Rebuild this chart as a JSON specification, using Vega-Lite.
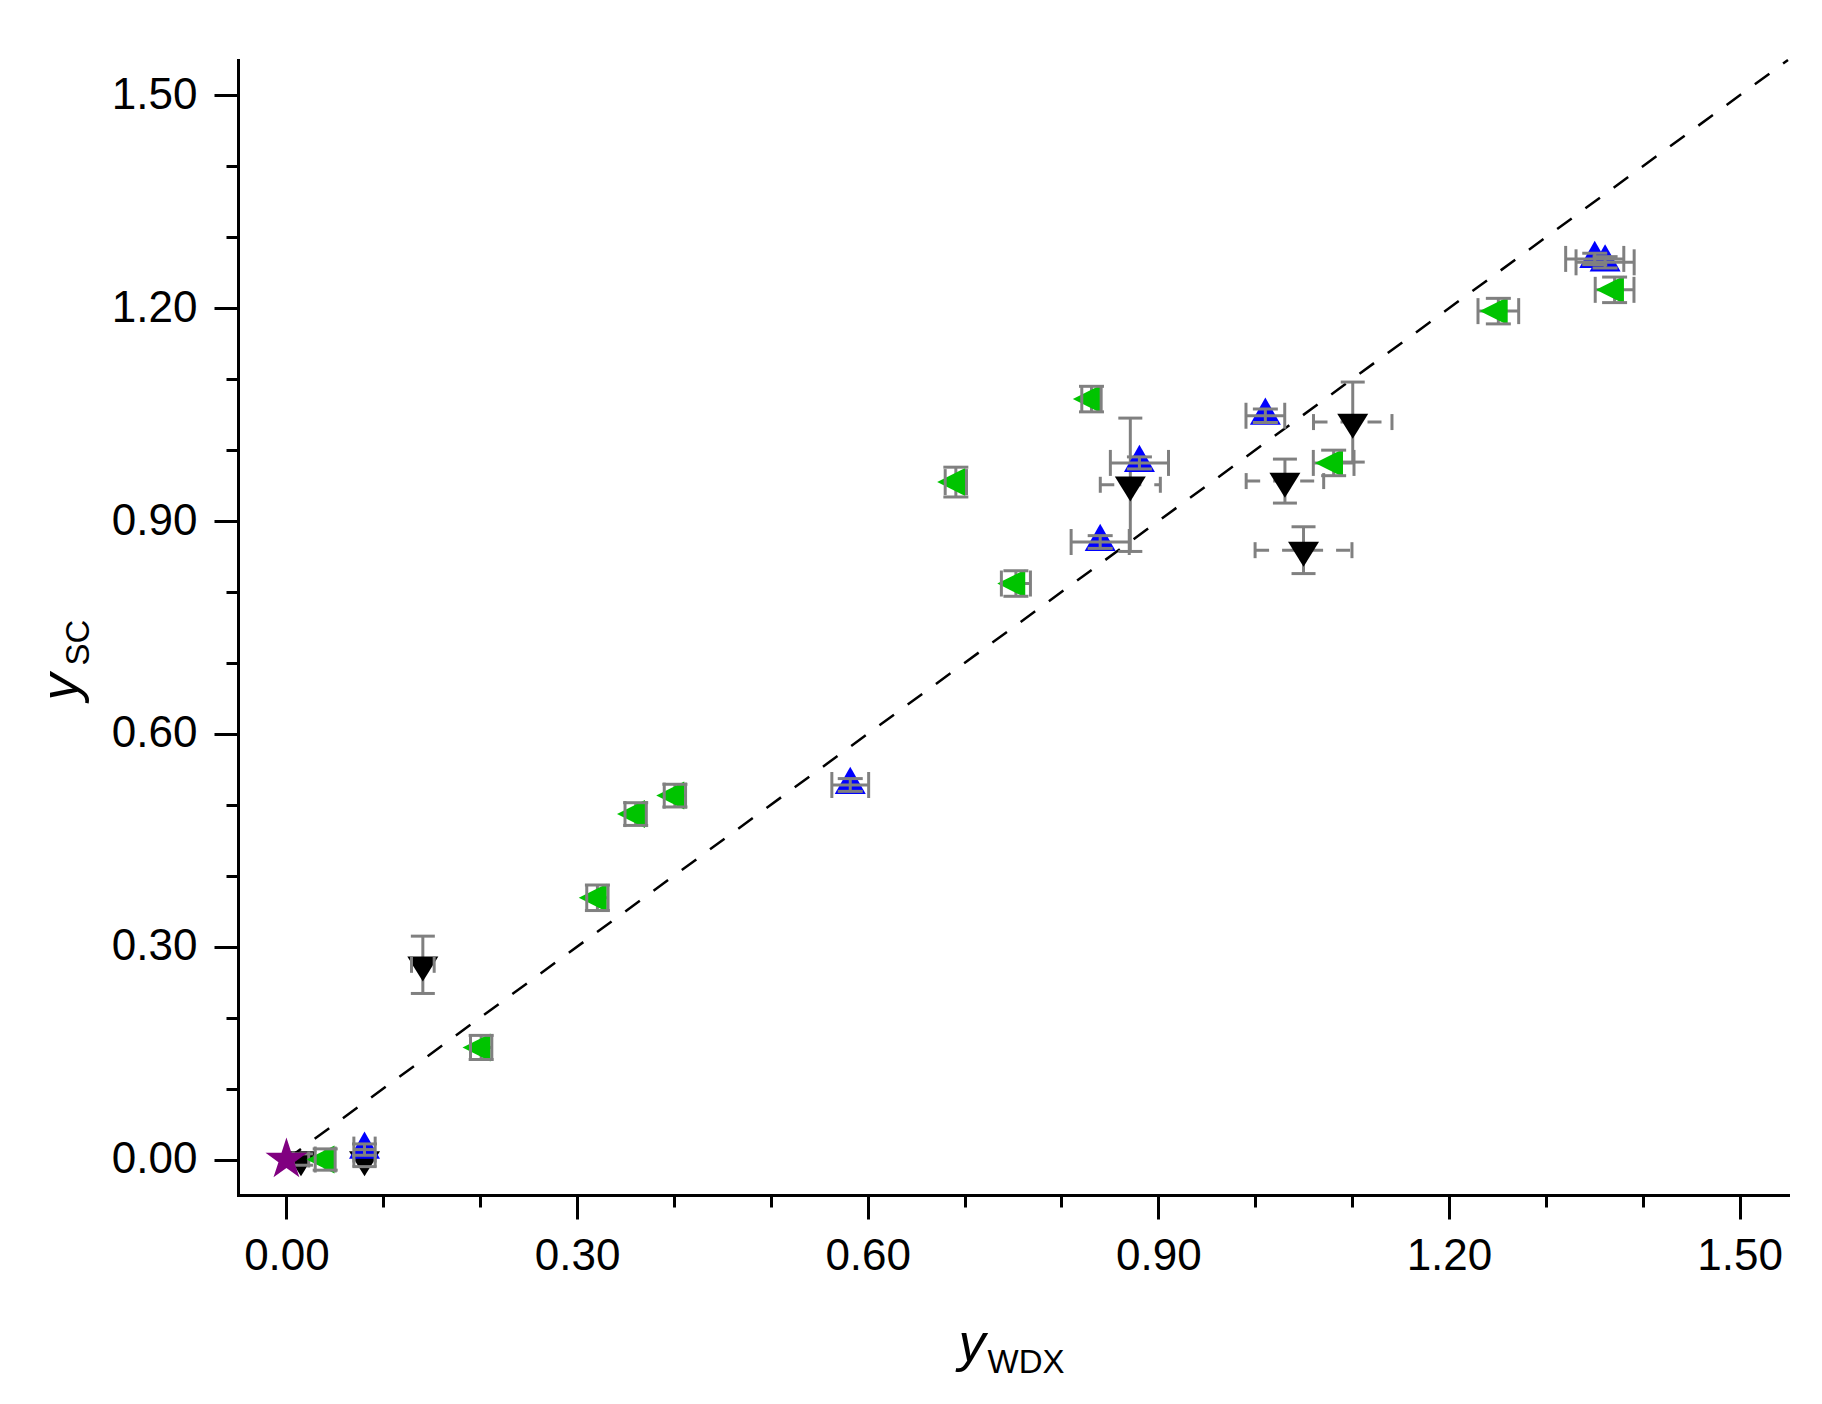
{
  "$schema": "https://vega.github.io/schema/vega-lite/v6.json",
  "width": 1550,
  "height": 1135,
  "autosize": {"type": "none"},
  "padding": {"left": 238, "top": 60, "right": 34, "bottom": 209},
  "background": "white",
  "config": {
    "view": {"stroke": null},
    "axis": {
      "grid": false,
      "labelFont": "Liberation Sans",
      "titleFont": "Liberation Sans",
      "labelColor": "black",
      "titleColor": "black",
      "tickColor": "black",
      "domainColor": "black",
      "titleFontWeight": "normal",
      "labelFontSize": 44,
      "tickWidth": 3,
      "domainWidth": 3
    }
  },
  "datasets": {
    "diag": [
      {"x": 0, "y": 0},
      {"x": 1.55, "y": 1.55}
    ],
    "star": [
      {"x": 0, "y": 0}
    ],
    "green": [
      {"x": 0.040, "y": 0.000, "xlo": 0.0297, "xhi": 0.0503, "ylo": -0.015, "yhi": 0.015},
      {"x": 0.201, "y": 0.158, "xlo": 0.190, "xhi": 0.212, "ylo": 0.141, "yhi": 0.175},
      {"x": 0.321, "y": 0.369, "xlo": 0.310, "xhi": 0.332, "ylo": 0.351, "yhi": 0.387},
      {"x": 0.3605, "y": 0.487, "xlo": 0.3495, "xhi": 0.3715, "ylo": 0.471, "yhi": 0.503},
      {"x": 0.401, "y": 0.513, "xlo": 0.390, "xhi": 0.412, "ylo": 0.497, "yhi": 0.529},
      {"x": 0.691, "y": 0.955, "xlo": 0.680, "xhi": 0.702, "ylo": 0.934, "yhi": 0.976},
      {"x": 0.753, "y": 0.812, "xlo": 0.738, "xhi": 0.768, "ylo": 0.794, "yhi": 0.830},
      {"x": 0.831, "y": 1.072, "xlo": 0.821, "xhi": 0.841, "ylo": 1.054, "yhi": 1.090},
      {"x": 1.081, "y": 0.982, "xlo": 1.060, "xhi": 1.102, "ylo": 0.964, "yhi": 1.000},
      {"x": 1.251, "y": 1.196, "xlo": 1.230, "xhi": 1.272, "ylo": 1.178, "yhi": 1.214},
      {"x": 1.371, "y": 1.226, "xlo": 1.351, "xhi": 1.391, "ylo": 1.208, "yhi": 1.244}
    ],
    "blue": [
      {"x": 0.0806, "y": 0.014, "xlo": 0.0696, "xhi": 0.0916, "ylo": 0.006, "yhi": 0.022},
      {"x": 0.582, "y": 0.528, "xlo": 0.563, "xhi": 0.601, "ylo": 0.519, "yhi": 0.537},
      {"x": 0.840, "y": 0.8705, "xlo": 0.810, "xhi": 0.870, "ylo": 0.8615, "yhi": 0.8795},
      {"x": 0.8805, "y": 0.982, "xlo": 0.8505, "xhi": 0.9105, "ylo": 0.9735, "yhi": 0.9905},
      {"x": 1.0105, "y": 1.0485, "xlo": 0.9905, "xhi": 1.0305, "ylo": 1.039, "yhi": 1.058},
      {"x": 1.3505, "y": 1.2696, "xlo": 1.3205, "xhi": 1.3805, "ylo": 1.2616, "yhi": 1.2776},
      {"x": 1.3612, "y": 1.2648, "xlo": 1.3312, "xhi": 1.3912, "ylo": 1.2568, "yhi": 1.2728}
    ],
    "black": [
      {"x": 0.015, "y": 0.000, "xlo": 0.007, "xhi": 0.023, "ylo": -0.008, "yhi": 0.008},
      {"x": 0.0806, "y": 0.000, "xlo": 0.0696, "xhi": 0.0916, "ylo": -0.010, "yhi": 0.010},
      {"x": 0.1408, "y": 0.2745, "xlo": 0.1291, "xhi": 0.1525, "ylo": 0.2341, "yhi": 0.3149},
      {"x": 0.8711, "y": 0.9512, "xlo": 0.8401, "xhi": 0.9021, "ylo": 0.8572, "yhi": 1.0452},
      {"x": 1.0307, "y": 0.9564, "xlo": 0.9907, "xhi": 1.0707, "ylo": 0.9254, "yhi": 0.9874},
      {"x": 1.0499, "y": 0.859, "xlo": 0.9999, "xhi": 1.0999, "ylo": 0.826, "yhi": 0.892},
      {"x": 1.1007, "y": 1.0396, "xlo": 1.0602, "xhi": 1.1412, "ylo": 0.9832, "yhi": 1.096}
    ]
  },
  "resolve": {"axis": {"x": "independent", "y": "independent"}},
  "layer": [
    {
      "data": {"name": "diag"},
      "mark": {"type": "line", "color": "black", "strokeWidth": 2.5, "strokeDash": [18, 17]},
      "encoding": {
        "x": {
          "field": "x", "type": "quantitative",
          "scale": {"domain": [-0.05, 1.55], "nice": false, "zero": false},
          "axis": {"orient": "bottom", "values": [0, 0.1, 0.2, 0.3, 0.4, 0.5, 0.6, 0.7, 0.8, 0.9, 1.0, 1.1, 1.2, 1.3, 1.4, 1.5],
                   "tickSize": 12, "labels": false, "title": null, "domain": true, "domainCap": "square"}
        },
        "y": {
          "field": "y", "type": "quantitative",
          "scale": {"domain": [-0.05, 1.55], "nice": false, "zero": false},
          "axis": {"orient": "left", "values": [0, 0.1, 0.2, 0.3, 0.4, 0.5, 0.6, 0.7, 0.8, 0.9, 1.0, 1.1, 1.2, 1.3, 1.4, 1.5],
                   "tickSize": 12, "labels": false, "title": null, "domain": true, "domainCap": "square"}
        }
      }
    },
    {
      "data": {"name": "black"},
      "layer": [
        {
          "mark": {"type": "rule", "color": "#808080", "strokeWidth": 3, "strokeDash": [14, 13]},
          "encoding": {
            "x": {"field": "xlo", "type": "quantitative", "axis": null},
            "x2": {"field": "xhi"},
            "y": {"field": "y", "type": "quantitative", "axis": null}
          }
        },
        {
          "mark": {"type": "rule", "color": "#808080", "strokeWidth": 3},
          "encoding": {
            "x": {"field": "x", "type": "quantitative", "axis": null},
            "y": {"field": "ylo", "type": "quantitative", "axis": null},
            "y2": {"field": "yhi"}
          }
        },
        {
          "mark": {"type": "point", "shape": "M0,1.075L1,-0.537L-1,-0.537Z", "size": 961, "filled": true, "color": "black", "opacity": 1},
          "encoding": {
            "x": {"field": "x", "type": "quantitative", "axis": null},
            "y": {"field": "y", "type": "quantitative", "axis": null}
          }
        },
        {
          "mark": {"type": "tick", "orient": "vertical", "size": 16, "thickness": 3, "color": "#808080", "opacity": 1},
          "encoding": {
            "x": {"field": "xlo", "type": "quantitative", "axis": null},
            "y": {"field": "y", "type": "quantitative", "axis": null}
          }
        },
        {
          "mark": {"type": "tick", "orient": "vertical", "size": 16, "thickness": 3, "color": "#808080", "opacity": 1},
          "encoding": {
            "x": {"field": "xhi", "type": "quantitative", "axis": null},
            "y": {"field": "y", "type": "quantitative", "axis": null}
          }
        },
        {
          "mark": {"type": "tick", "orient": "horizontal", "size": 24, "thickness": 3, "color": "#808080", "opacity": 1},
          "encoding": {
            "x": {"field": "x", "type": "quantitative", "axis": null},
            "y": {"field": "ylo", "type": "quantitative", "axis": null}
          }
        },
        {
          "mark": {"type": "tick", "orient": "horizontal", "size": 24, "thickness": 3, "color": "#808080", "opacity": 1},
          "encoding": {
            "x": {"field": "x", "type": "quantitative", "axis": null},
            "y": {"field": "yhi", "type": "quantitative", "axis": null}
          }
        }
      ]
    },
    {
      "data": {"name": "green"},
      "layer": [
        {
          "mark": {"type": "rule", "color": "#808080", "strokeWidth": 3},
          "encoding": {
            "x": {"field": "xlo", "type": "quantitative", "axis": null},
            "x2": {"field": "xhi"},
            "y": {"field": "y", "type": "quantitative", "axis": null}
          }
        },
        {
          "mark": {"type": "rule", "color": "#808080", "strokeWidth": 3},
          "encoding": {
            "x": {"field": "x", "type": "quantitative", "axis": null},
            "y": {"field": "ylo", "type": "quantitative", "axis": null},
            "y2": {"field": "yhi"}
          }
        },
        {
          "mark": {"type": "point", "shape": "M-1.333,0L0.667,-1L0.667,1Z", "size": 784, "filled": true, "color": "#00c400", "opacity": 1},
          "encoding": {
            "x": {"field": "x", "type": "quantitative", "axis": null},
            "y": {"field": "y", "type": "quantitative", "axis": null}
          }
        },
        {
          "mark": {"type": "tick", "orient": "vertical", "size": 26, "thickness": 3, "color": "#808080", "opacity": 1},
          "encoding": {
            "x": {"field": "xlo", "type": "quantitative", "axis": null},
            "y": {"field": "y", "type": "quantitative", "axis": null}
          }
        },
        {
          "mark": {"type": "tick", "orient": "vertical", "size": 26, "thickness": 3, "color": "#808080", "opacity": 1},
          "encoding": {
            "x": {"field": "xhi", "type": "quantitative", "axis": null},
            "y": {"field": "y", "type": "quantitative", "axis": null}
          }
        },
        {
          "mark": {"type": "tick", "orient": "horizontal", "size": 25, "thickness": 3, "color": "#808080", "opacity": 1},
          "encoding": {
            "x": {"field": "x", "type": "quantitative", "axis": null},
            "y": {"field": "ylo", "type": "quantitative", "axis": null}
          }
        },
        {
          "mark": {"type": "tick", "orient": "horizontal", "size": 25, "thickness": 3, "color": "#808080", "opacity": 1},
          "encoding": {
            "x": {"field": "x", "type": "quantitative", "axis": null},
            "y": {"field": "yhi", "type": "quantitative", "axis": null}
          }
        }
      ]
    },
    {
      "data": {"name": "blue"},
      "mark": {"type": "point", "shape": "M0,-1.173L1,0.587L-1,0.587Z", "size": 961, "filled": true, "color": "#0000ff", "opacity": 1},
      "encoding": {
        "x": {
          "field": "x", "type": "quantitative",
          "axis": {"orient": "bottom", "values": [0, 0.3, 0.6, 0.9, 1.2, 1.5], "format": ".2f", "tickSize": 24,
                   "labelPadding": 15, "labelFlush": false, "domain": false,
                   "title": "y", "titleFontSize": 54, "titleFontStyle": "italic",
                   "titleX": 720, "titleY": 165, "titleAlign": "left", "titleBaseline": "alphabetic"}
        },
        "y": {
          "field": "y", "type": "quantitative",
          "axis": {"orient": "left", "values": [0, 0.3, 0.6, 0.9, 1.2, 1.5], "format": ".2f", "tickSize": 24,
                   "labelPadding": 17, "labelFlush": false, "domain": false,
                   "title": "y", "titleFontSize": 54, "titleFontStyle": "italic", "titleAngle": 270,
                   "titleX": -161, "titleY": 640, "titleAlign": "left", "titleBaseline": "alphabetic"}
        }
      }
    },
    {
      "data": {"name": "blue"},
      "layer": [
        {
          "mark": {"type": "rule", "color": "#808080", "strokeWidth": 3},
          "encoding": {
            "x": {"field": "xlo", "type": "quantitative", "axis": null},
            "x2": {"field": "xhi"},
            "y": {"field": "y", "type": "quantitative", "axis": null}
          }
        },
        {
          "mark": {"type": "rule", "color": "#808080", "strokeWidth": 3},
          "encoding": {
            "x": {"field": "x", "type": "quantitative", "axis": null},
            "y": {"field": "ylo", "type": "quantitative", "axis": null},
            "y2": {"field": "yhi"}
          }
        },
        {
          "mark": {"type": "tick", "orient": "vertical", "size": 26, "thickness": 3, "color": "#808080", "opacity": 1},
          "encoding": {
            "x": {"field": "xlo", "type": "quantitative", "axis": null},
            "y": {"field": "y", "type": "quantitative", "axis": null}
          }
        },
        {
          "mark": {"type": "tick", "orient": "vertical", "size": 26, "thickness": 3, "color": "#808080", "opacity": 1},
          "encoding": {
            "x": {"field": "xhi", "type": "quantitative", "axis": null},
            "y": {"field": "y", "type": "quantitative", "axis": null}
          }
        },
        {
          "mark": {"type": "tick", "orient": "horizontal", "size": 25, "thickness": 3, "color": "#808080", "opacity": 1},
          "encoding": {
            "x": {"field": "x", "type": "quantitative", "axis": null},
            "y": {"field": "ylo", "type": "quantitative", "axis": null}
          }
        },
        {
          "mark": {"type": "tick", "orient": "horizontal", "size": 25, "thickness": 3, "color": "#808080", "opacity": 1},
          "encoding": {
            "x": {"field": "x", "type": "quantitative", "axis": null},
            "y": {"field": "yhi", "type": "quantitative", "axis": null}
          }
        }
      ]
    },
    {
      "data": {"name": "star"},
      "mark": {
        "type": "point",
        "shape": "M0,-1L0.2245,-0.309L0.9511,-0.309L0.3633,0.118L0.5878,0.809L0,0.382L-0.5878,0.809L-0.3633,0.118L-0.9511,-0.309L-0.2245,-0.309Z",
        "size": 1936, "filled": true, "color": "#800080", "opacity": 1
      },
      "encoding": {
        "x": {
          "field": "x", "type": "quantitative",
          "axis": {"orient": "bottom", "domain": false, "ticks": false, "labels": false,
                   "title": "WDX", "titleFontSize": 33, "titleX": 749, "titleY": 177,
                   "titleAlign": "left", "titleBaseline": "alphabetic"}
        },
        "y": {
          "field": "y", "type": "quantitative",
          "axis": {"orient": "left", "domain": false, "ticks": false, "labels": false,
                   "title": "SC", "titleFontSize": 33, "titleAngle": 270, "titleX": -150, "titleY": 605,
                   "titleAlign": "left", "titleBaseline": "alphabetic"}
        }
      }
    }
  ]
}
